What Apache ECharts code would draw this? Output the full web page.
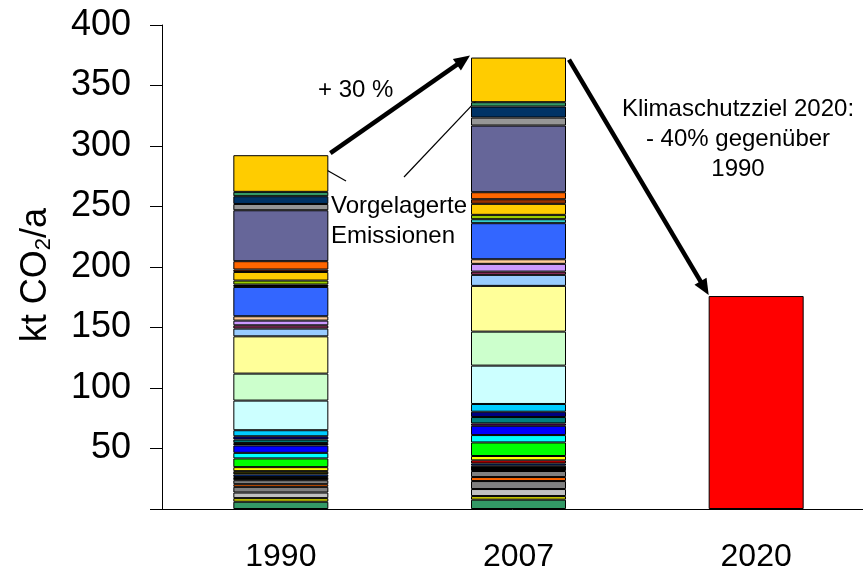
<!DOCTYPE html>
<html>
<head>
<meta charset="utf-8">
<script src="https://cdn.jsdelivr.net/npm/echarts@6/dist/echarts.min.js"></script>
<style>
html, body { margin: 0; padding: 0; background: #fff; }
#chart { width: 863px; height: 571px; }
</style>
</head>
<body>
<div id="chart"></div>
<script>
// categories on the x axis
const years = ['1990', '2007', '2020']

// stacked segments, bottom to top, kt CO2/a (null = segment not present)
const values1990 = [6, 3, 4.6, 4.7, 2.2, 3.3, 2.6, 2.2, 2.7, null, 3.3, 7.2, 4.6, 6.1, null, 2.1, 2.8, 2.7, 5,
  24.5, 22.3, 30.8, 6.4, 2.7, 3.9, 3.6, 24.2, 2, null, 3.3, 7.1, 2, 6.9, 42.1, 5.2, 6.4, 3.6, 30.3]
const values2007 = [7.7, 3, 5.8, 6.6, 3.3, 5, 4.4, 1.9, null, 2.5, 3.6, 11.2, 6.1, 7.7, 1.9, null, 5.3, 4.4, 6.4,
  31.7, 28.1, 37.8, 9.1, 2.7, 6.4, 3.8, 29.8, null, 3.3, 3.6, 9.1, 3.8, 5.8, 55.1, 6.6, 9.1, 3.6, 36.9]
// target 2020: -40 % vs. 1990
const target2020 = 176

const segmentColors = ['#339966', '#CCCC00', '#C0C0C0', '#808080', '#FF6600', '#808080', '#000000', '#003399',
  '#333300', '#FF0000', '#FFFF00', '#00FF00', '#00FFFF', '#0000FF', '#800080', '#000000', '#008080', '#000080',
  '#00CCFF', '#CCFFFF', '#CCFFCC', '#FFFF99', '#99CCFF', '#993366', '#CC99FF', '#FFCC99', '#3366FF', '#000000',
  '#33CCCC', '#99CC00', '#FFCC00', '#993300', '#FF6600', '#666699', '#969696', '#003366', '#339966', '#FFCC00']
const targetColor = '#FF0000'

const font = 'Liberation Sans, Arial, sans-serif'
const barWidth = 95

const chart = echarts.init(document.getElementById('chart'))

const series = values1990.map((v, i) => ({
  name: 'Segment ' + (i + 1),
  type: 'bar',
  stack: 'total',
  barWidth: barWidth,
  data: [v, values2007[i], null],
  itemStyle: { color: segmentColors[i], borderColor: '#000', borderWidth: 1 },
  animation: false
}))
series.push({
  name: 'Klimaschutzziel 2020',
  type: 'bar',
  stack: 'total',
  barWidth: barWidth,
  data: [null, null, target2020],
  itemStyle: { color: targetColor, borderColor: '#000', borderWidth: 1 },
  animation: false
})

chart.setOption({
  animation: false,
  grid: { left: 162, right: -12, top: 25, bottom: 62, outerBoundsMode: 'none' },
  xAxis: {
    type: 'category',
    data: years,
    axisLine: { lineStyle: { color: '#000', width: 1 } },
    axisTick: { length: 10, interval: 0, lineStyle: { color: '#000' } },
    axisLabel: { color: '#000', fontSize: 32, fontFamily: font, margin: 32 }
  },
  yAxis: {
    type: 'value',
    min: 0,
    max: 400,
    interval: 50,
    splitLine: { show: false },
    axisLine: { show: true, lineStyle: { color: '#000', width: 1 } },
    axisTick: { show: true, length: 12, lineStyle: { color: '#000' } },
    axisLabel: {
      color: '#000', fontSize: 36, fontFamily: font, margin: 31,
      formatter: v => (v === 0 ? '' : String(v))
    },
    name: '{a|kt CO}{b|2}{a|/a}',
    nameLocation: 'middle',
    nameGap: 106,
    nameTextStyle: {
      padding: [0, 16, 0, 0],
      rich: {
        a: { fontSize: 36, fontFamily: font, color: '#000', lineHeight: 40 },
        b: { fontSize: 22, fontFamily: font, color: '#000', lineHeight: 40, padding: [16, 0, 0, 0] }
      }
    }
  },
  series: series
})

// annotation arrows, anchored to the bar tops
function arrow(x1, y1, x2, y2, lw, hl, hw) {
  const a = Math.atan2(y2 - y1, x2 - x1)
  const c = Math.cos(a), s = Math.sin(a)
  const bx = x2 - hl * c, by = y2 - hl * s
  return [
    { type: 'line', shape: { x1: x1, y1: y1, x2: bx + c, y2: by + s }, style: { stroke: '#000', lineWidth: lw } },
    { type: 'polygon', shape: { points: [[x2, y2], [bx + hw * s, by - hw * c], [bx - hw * s, by + hw * c]] },
      style: { fill: '#000' } }
  ]
}

const sum = arr => arr.reduce((t, v) => t + (v || 0), 0)
const p1990 = chart.convertToPixel({ gridIndex: 0 }, ['1990', sum(values1990)])
const p2007 = chart.convertToPixel({ gridIndex: 0 }, ['2007', sum(values2007)])
const p2020 = chart.convertToPixel({ gridIndex: 0 }, ['2020', target2020])
const half = barWidth / 2

const textStyle = { fill: '#000', fontSize: 24, fontFamily: font }
const graphics = []
  .concat(arrow(p1990[0] + half + 2, p1990[1] - 2, p2007[0] - half - 1, p2007[1] - 2, 4.5, 16, 7))
  .concat(arrow(p2007[0] + half + 3, p2007[1] + 2, p2020[0] - half, p2020[1] - 1, 4.5, 16, 7))
  .concat(arrow(346, 181, p1990[0] + 34, p1990[1] + 8, 1.2, 10, 4))
  .concat(arrow(404, 177, p2007[0] - 26, p2007[1] + 26, 1.2, 10, 4))
graphics.push(
  { type: 'text', left: 318, top: 78, style: Object.assign({ text: '+ 30 %' }, textStyle) },
  { type: 'text', left: 331, top: 191, style: Object.assign({ text: 'Vorgelagerte\nEmissionen', lineHeight: 30 }, textStyle) },
  { type: 'text', x: 738, y: 94, style: Object.assign({ text: 'Klimaschutzziel 2020:\n- 40% gegenüber\n1990', align: 'center', lineHeight: 30 }, textStyle) }
)
chart.setOption({ graphic: graphics })
</script>
</body>
</html>
